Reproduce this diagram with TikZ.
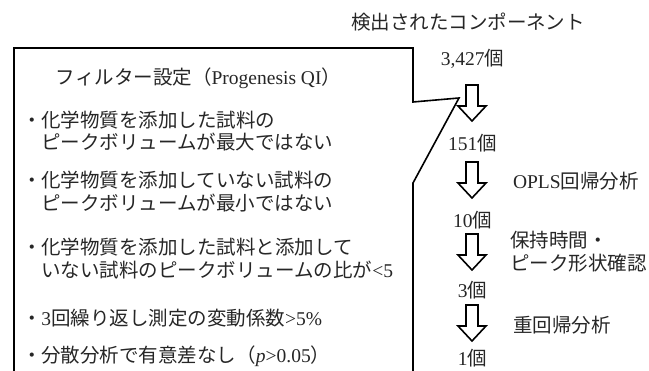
\documentclass[tikz,border=0pt]{standalone}
\usepackage{fontspec}
\setmainfont{Liberation Serif}
\newfontfamily\jp{Noto Sans CJK JP}
\newcommand\JP[1]{{\jp #1}}
\tikzset{
  txt/.style={inner sep=0pt, outer sep=0pt, text=black!85, font=\fontsize{19.5}{23}\selectfont},
  lbl/.style={txt, anchor=base west},
  cnt/.style={txt, anchor=base},
  boxline/.style={draw=black, line width=1.6pt, line join=miter},
  pics/downarrow/.style={code={
    \draw[draw=black, fill=white, line width=1.6pt, line join=miter]
      (-6,0) -- (6,0) -- (6,21) -- (14,21) -- (0,36) -- (-14,21) -- (-6,21) -- cycle;
  }}
}
\begin{document}
\begin{tikzpicture}[x=1pt,y=-1pt]
\useasboundingbox (0,0) rectangle (649,371);
% callout box
\draw[boxline] (14,375) -- (14,48) -- (413,48) -- (413,102) -- (459,98) -- (413,183) -- (413,375);
% left box text
\node[lbl] (title) at (56,84.4) {\JP{フィルター設定（}Progenesis QI\JP{）}};
\node[lbl] (b1a) at (22,127.4) {\JP{・化学物質を添加した試料の}};
\node[lbl] (b1b) at (41.5,149.4) {\JP{ピークボリュームが最大ではない}};
\node[lbl] (b2a) at (22,187.4) {\JP{・化学物質を添加していない試料の}};
\node[lbl] (b2b) at (41.5,210.4) {\JP{ピークボリュームが最小ではない}};
\node[lbl] (b3a) at (22,254.4) {\JP{・化学物質を添加した試料と添加して}};
\node[lbl] (b3b) at (41.5,277.4) {\JP{いない試料のピークボリュームの比が}<5};
\node[lbl] (b4) at (22,325.4) {\JP{・}3\JP{回繰り返し測定の変動係数}>5\%};
\node[lbl] (b5) at (22,362.4) {\JP{・分散分析で有意差なし（}\textit{p}>0.05\JP{）}};
% right column
\node[lbl] (head) at (351,29.4) {\JP{検出されたコンポーネント}};
\node[cnt] (c1) at (472.5,65.4) {3,427\JP{個}};
\node[cnt] (c2) at (472.5,150.4) {151\JP{個}};
\node[cnt] (c3) at (472.5,227.4) {10\JP{個}};
\node[cnt] (c4) at (472.5,297.4) {3\JP{個}};
\node[cnt] (c5) at (472.5,365.4) {1\JP{個}};
\pic (a1) at (472,85) {downarrow};
\pic (a2) at (472,162) {downarrow};
\pic (a3) at (472,234) {downarrow};
\pic (a4) at (472,305) {downarrow};
\node[lbl] (s1) at (513,188.4) {OPLS\JP{回帰分析}};
\node[lbl] (s2a) at (510,247.4) {\JP{保持時間・}};
\node[lbl] (s2b) at (510,270.4) {\JP{ピーク形状確認}};
\node[lbl] (s3) at (513,332.4) {\JP{重回帰分析}};
\end{tikzpicture}
\end{document}
